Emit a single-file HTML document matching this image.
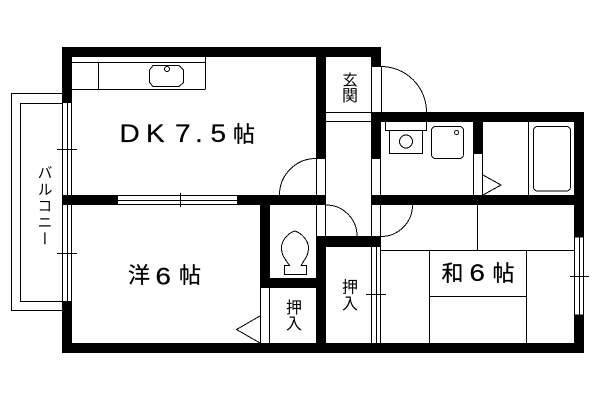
<!DOCTYPE html>
<html><head><meta charset="utf-8"><style>
html,body{margin:0;padding:0;background:#fff;width:600px;height:400px;overflow:hidden}
svg{display:block}
text{font-family:"Liberation Sans","Noto Sans CJK JP",sans-serif;fill:#000}
.b{stroke:#000;stroke-width:.25}
</style></head><body>
<svg width="600" height="400" viewBox="0 0 600 400" xmlns="http://www.w3.org/2000/svg">
<rect width="600" height="400" fill="#fff"/>
<!-- walls -->
<g fill="#000" shape-rendering="crispEdges">
<rect x="62" y="47" width="319" height="10"/>
<rect x="62" y="47" width="10" height="56"/>
<rect x="62" y="301" width="10" height="52"/>
<rect x="62" y="343" width="522" height="10"/>
<rect x="316" y="47" width="10" height="111"/>
<rect x="371" y="47" width="10" height="20"/>
<rect x="371" y="112" width="213" height="10"/>
<rect x="371" y="112" width="10" height="46"/>
<rect x="473" y="112" width="10" height="42"/>
<rect x="574" y="112" width="10" height="125"/>
<rect x="574" y="315" width="10" height="38"/>
<rect x="62" y="195" width="56" height="10"/>
<rect x="237" y="195" width="89" height="10"/>
<rect x="371" y="195" width="213" height="10"/>
<rect x="260" y="195" width="10" height="93"/>
<rect x="260" y="278" width="66" height="10"/>
<rect x="316" y="236" width="10" height="117"/>
<rect x="316" y="236" width="65" height="11"/>
</g>
<!-- straight lines -->
<g stroke="#000" stroke-width="1" fill="none" shape-rendering="crispEdges">
<path d="M62 93.5H11.5V310.5H62M62 103.5H20.5V301.5H62"/>
<path d="M62.5 103V301M67.5 103V301M71.5 103V301M57 149.5H77M57 253.5H77"/>
<path d="M118 195.5H237M118 200.5H237M118 204.5H237M180.5 193V207"/>
<path d="M72 62.5H205M72 89.5H205.500M205.500 57V89M98.500 62V89"/>
<path d="M326 112.500H371M326 121.500H371M381.500 67V112M371.500 67V112M371 66.500H381"/>
<path d="M316.500 158V195M325.500 158V195M316 158.500H326M371.500 158V195M380.500 158V195M371 158.500H381"/>
<path d="M316.500 205V236M325.500 205V236M371.500 205V236M380.500 205V236"/>
<path d="M473.500 154V195M482.500 154V195M473 153.500H483M528.500 122V195"/>
<path d="M385.500 122V130.500H426.500V122M389.500 130.500V153.500H422.500V130.500"/>
<path d="M260.500 288V343M269.500 288V343"/>
<path d="M371.500 247V343M376.500 247V343M380.500 247V343M366 294.500H386"/>
<path d="M381 250.500H574M477.500 205V250M429.500 250V343M526.500 250V343M430 296.500H526"/>
<path d="M574.500 237V315M579.500 237V315M583.500 237V315M574 237H584M574 315H584M570 276.500H589"/>
</g>
<!-- curves and shapes -->
<g stroke="#000" stroke-width="1" fill="none" shape-rendering="crispEdges">
<path d="M381 66.500A45.500 45.500 0 0 1 426.500 112"/>
<path d="M316 158.500A36.500 36.500 0 0 0 279.500 195"/>
<path d="M326 205A31 31 0 0 1 357 236"/>
<path d="M412.500 205A31.500 31.500 0 0 1 381 236.500"/>
<path d="M153 65.500H179L183.500 70V82.500L179 86.500H153L149.500 82.500V70Z"/>
<circle cx="167" cy="69" r="2.500"/>
<circle cx="406" cy="141.500" r="6.500"/>
<rect x="431.500" y="126.500" width="32" height="32" rx="4"/>
<circle cx="456.500" cy="132.500" r="2"/>
<rect x="533.500" y="126.500" width="37" height="64.500" rx="4"/>
<path d="M483 175L501 185L483 195"/>
<path d="M260 316L236.500 329.500L260 343"/>
<path d="M295 231C288 233 281.500 240 281.500 248C281.500 256 286 260 289.500 265.500H284.500V274.500H306.500V265.500H301C304 260 308.500 256 308.500 248C308.500 240 301 233 295 231Z"/>
</g>
<!-- labels -->
<g font-size="25" class="b">
<text transform="translate(119.500 142) scale(1.12 1)">D</text>
<text transform="translate(146 142) scale(1.12 1)">K</text>
<text transform="translate(175 142) scale(1.12 1)">7</text>
<text transform="translate(195 142) scale(1.12 1)">.</text>
<text transform="translate(210.500 142) scale(1.12 1)">5</text>
</g>
<g class="b">
<text x="233" y="142" font-size="22">帖</text>
<text x="128" y="283" font-size="22">洋</text>
<text transform="translate(155.500 284.500) scale(1.15 1)" font-size="24">6</text>
<text x="179" y="283" font-size="22">帖</text>
<text x="441.500" y="281" font-size="22">和</text>
<text transform="translate(469.500 281) scale(1.15 1)" font-size="24">6</text>
<text x="492.500" y="281" font-size="22">帖</text>
</g>
<text x="350" y="85" font-size="15" text-anchor="middle">玄</text>
<text x="350" y="101" font-size="16" text-anchor="middle">関</text>
<text x="350" y="292.500" font-size="16" text-anchor="middle">押</text>
<text x="350" y="309" font-size="16" text-anchor="middle">入</text>
<text x="294" y="313" font-size="16" text-anchor="middle">押</text>
<text x="294" y="329" font-size="16" text-anchor="middle">入</text>
<text x="44" y="165" font-size="15" writing-mode="vertical-rl" text-anchor="start" letter-spacing="1.500">バルコニー</text>
</svg>
</body></html>
